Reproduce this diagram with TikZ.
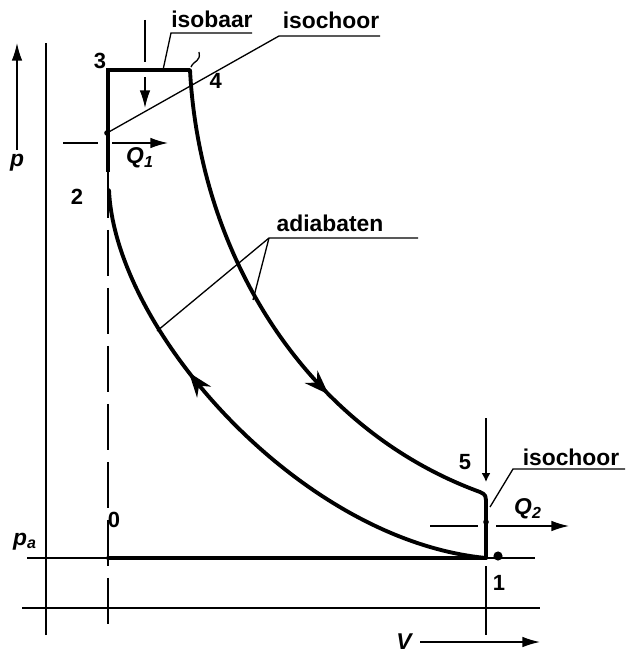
\documentclass[tikz,border=0pt]{standalone}
\usepackage{fontspec}
\setmainfont{Liberation Sans}
\usetikzlibrary{arrows.meta, positioning, decorations.markings}
\definecolor{inkblack}{RGB}{0, 0, 0}
\tikzset{
  thinline/.style={draw=inkblack, line width=0.85pt},
  leader/.style={draw=inkblack, line width=0.75pt},
  cycleline/.style={draw=inkblack, line width=2.2pt, line join=round, line cap=round},
  strokeline/.style={draw=inkblack, line width=1.8pt, line join=miter},
  dashline/.style={draw=inkblack, line width=0.85pt, dash pattern=on 26pt off 7pt},
  heatarrow/.style={thinline, -{Latex[length=10pt, width=6pt]}},
  dirarrow/.style={thinline, -{Latex[length=5pt, width=5pt]}},
  midarrow/.style={postaction={decorate}, decoration={markings, mark=at position #1 with {\arrow{Stealth[length=14pt, width=10pt]}}}},
  lbl/.style={font=\fontsize{13}{14}\selectfont\bfseries, inner sep=1pt},
  numlbl/.style={font=\fontsize{12.5}{14}\selectfont\bfseries, inner sep=1pt},
  varlbl/.style={font=\fontsize{13}{14}\selectfont\bfseries\itshape, inner sep=1pt}
}

\begin{document}
\begin{tikzpicture}[x=0.2mm, y=-0.2mm]
    \useasboundingbox (0,0) rectangle (625,655);
    % Cycle points
    \coordinate (p0) at (108,558);
    \coordinate (p1) at (486,558);
    \coordinate (p2) at (108,172);
    \coordinate (p2curve) at (109,190);
    \coordinate (p3) at (108,70);
    \coordinate (p4) at (190,70);
    \coordinate (p5) at (486,506);
    \coordinate (p5bend) at (480,492);

    % Axes and reference lines
    \coordinate (paxbot) at (46,635);
    \coordinate (paxtop) at (46,43);
    \draw[thinline] (paxbot) -- (paxtop);
    \coordinate (parrowfrom) at (17,150);
    \coordinate (parrowto) at (17,43);
    \draw[heatarrow] (parrowfrom) -- (parrowto);
    \coordinate (zeroleft) at (22,608);
    \coordinate (zeroright) at (540,608);
    \draw[thinline] (zeroleft) -- (zeroright);
    \coordinate (paleft) at (27,558);
    \coordinate (paright) at (535,558);
    \draw[thinline] (paleft) -- (paright);
    \coordinate (tdcbot) at (108,635);
    \draw[dashline] (p2) -- (tdcbot);
    \coordinate (bdcbot) at (486,635);
    \coordinate (bdctop) at (486,566);
    \draw[thinline] (bdctop) -- (bdcbot);
    \coordinate (varrowfrom) at (420,642);
    \coordinate (varrowto) at (540,642);
    \draw[heatarrow] (varrowfrom) -- (varrowto);

    % Cycle
    \draw[cycleline] (p0) -- (p1);
    \draw[strokeline] (p2) -- (p3) -- (p4);
    \draw[strokeline] (p5) -- (p1);
    \draw[cycleline, midarrow=0.645] (p4) .. controls (200,260) and (310,430) .. (p5bend)
        .. controls (486,495) .. (p5);
    \draw[cycleline, midarrow=0.64] (p1) .. controls (300,540) and (115,330) .. (p2curve);

    % Heat in (isobaar)
    \coordinate (qintop) at (145,20);
    \coordinate (qinmid) at (145,62);
    \draw[thinline] (qintop) -- (qinmid);
    \coordinate (qinfrom) at (145,77);
    \coordinate (qinto) at (145,108);
    \draw[heatarrow] (qinfrom) -- (qinto);
    \coordinate (qoneleft) at (63,143);
    \coordinate (qonestop) at (98,143);
    \draw[thinline] (qoneleft) -- (qonestop);
    \coordinate (qonefrom) at (112,143);
    \coordinate (qoneto) at (168,143);
    \draw[heatarrow] (qonefrom) -- (qoneto);

    % Heat out (isochoor)
    \coordinate (fivetop) at (486,418);
    \coordinate (fivetip) at (486,482);
    \draw[dirarrow] (fivetop) -- (fivetip);
    \coordinate (qtwoleft) at (430,526);
    \coordinate (qtwostop) at (478,526);
    \draw[thinline] (qtwoleft) -- (qtwostop);
    \coordinate (qtwofrom) at (496,526);
    \coordinate (qtwoto) at (569,526);
    \draw[heatarrow] (qtwofrom) -- (qtwoto);
    \fill[inkblack] (486,522) circle[radius=1.6pt];
    \fill[inkblack] (498,556) circle[radius=2.6pt];

    % Leader lines
    \node[lbl] (isobaar) at (212,19) {isobaar};
    \coordinate (isobaarknee) at (171,33);
    \coordinate (isobaarend) at (252,33);
    \coordinate (isobaartip) at (163,70);
    \draw[leader] (isobaarend) -- (isobaarknee) -- (isobaartip);

    \node[lbl] (isochoortop) at (331,20) {isochoor};
    \coordinate (ictopknee) at (279,36);
    \coordinate (ictopend) at (380,36);
    \coordinate (ictoptip) at (107,133);
    \draw[leader] (ictopend) -- (ictopknee) -- (ictoptip);
    \fill[inkblack] (ictoptip) circle[radius=1.6pt];
    \draw[leader] (191,67) .. controls (194,60) and (201,62) .. (199,52);

    \node[lbl] (adiabaten) at (330,223) {adiabaten};
    \coordinate (adknee) at (269,238);
    \coordinate (adend) at (418,238);
    \coordinate (adtipa) at (157,331);
    \coordinate (adtipb) at (253,300);
    \draw[leader] (adend) -- (adknee) -- (adtipa);
    \draw[leader] (adknee) -- (adtipb);

    \node[lbl] (isochoorright) at (571,457) {isochoor};
    \coordinate (icrknee) at (513,469);
    \coordinate (icrend) at (625,469);
    \coordinate (icrtip) at (490,507);
    \draw[leader] (icrend) -- (icrknee) -- (icrtip);

    % Point and axis labels
    \node[numlbl] (lblthree) at (100,61) {3};
    \node[numlbl, below right=1pt and 10pt of p4] (lblfour) {4};
    \node[numlbl] (lbltwo) at (77,197) {2};
    \node[numlbl] (lblzero) at (114,520) {0};
    \node[numlbl] (lblfive) at (465,462) {5};
    \node[numlbl] (lblone) at (499,583) {1};
    \node[varlbl] (lblp) at (17,163) {p};
    \node[varlbl] (lblpa) at (25,542) {p\textsubscript{a}};
    \node[varlbl] (lblqone) at (140,158) {Q\textsubscript{1}};
    \node[varlbl] (lblqtwo) at (528,509) {Q\textsubscript{2}};
    \node[varlbl] (lblv) at (404,642) {V};
\end{tikzpicture}
\end{document}
